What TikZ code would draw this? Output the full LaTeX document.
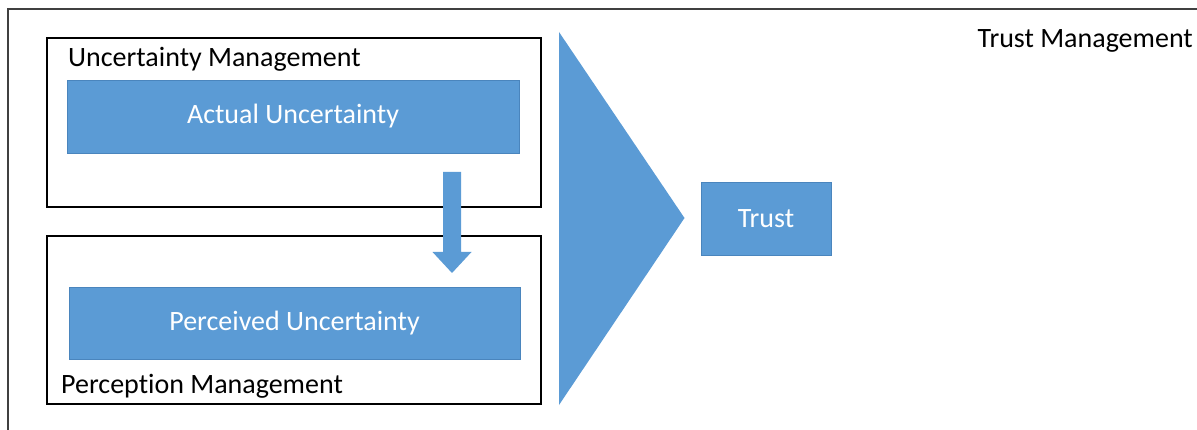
\documentclass[tikz,border=0pt]{standalone}
\usepackage{fontspec}
\setmainfont[Ligatures=NoCommon]{Carlito}
\usepackage{xcolor}
\usetikzlibrary{positioning}
\definecolor{ublue}{HTML}{5B9BD5}
\definecolor{uedge}{HTML}{4A85BD}

\begin{document}
\begin{tikzpicture}[x=1pt,y=-1pt]
			\tikzstyle{every node}=[font=\fontsize{28}{32}\selectfont, inner sep=0pt]
			\tikzstyle{mgmtbox}=[draw=black, line width=1.3pt, fill=white]
			\tikzstyle{bluebox}=[fill=ublue, draw=uedge, line width=0.8pt, text=white]
			\useasboundingbox (0,0) rectangle (1197,430);
			\draw [line width=1.6pt, black!75] (8,440) -- (8,9) -- (1210,9);
			\node [mgmtbox, minimum width=494, minimum height=169] (uncmgmt) at (294,122.5) {};
			\node [mgmtbox, minimum width=494, minimum height=168] (percmgmt) at (294,320) {};
			\node [bluebox, minimum width=452, minimum height=73] (actual) at (293,116.5) {Actual Uncertainty};
			\node [bluebox, minimum width=451, minimum height=72] (perceived) at (294.5,323) {Perceived Uncertainty};
			\node [anchor=base west] (unclabel) at (68,67) {Uncertainty Management};
			\node [anchor=base west] (perclabel) at (61,393) {Perception Management};
			\node [anchor=base east] (trustlabel) at (1193,48) {Trust Management};
			\node [bluebox, minimum width=130, minimum height=73] (trust) at (766,218.5) {Trust};
			\fill [ublue] (559,32) -- (684.5,218) -- (559,405) -- cycle;
			\fill [ublue] (443,172) -- (461,172) -- (461,252) -- (471.5,252) -- (452,273) -- (432.5,252) -- (443,252) -- cycle;
		\end{tikzpicture}
\end{document}
